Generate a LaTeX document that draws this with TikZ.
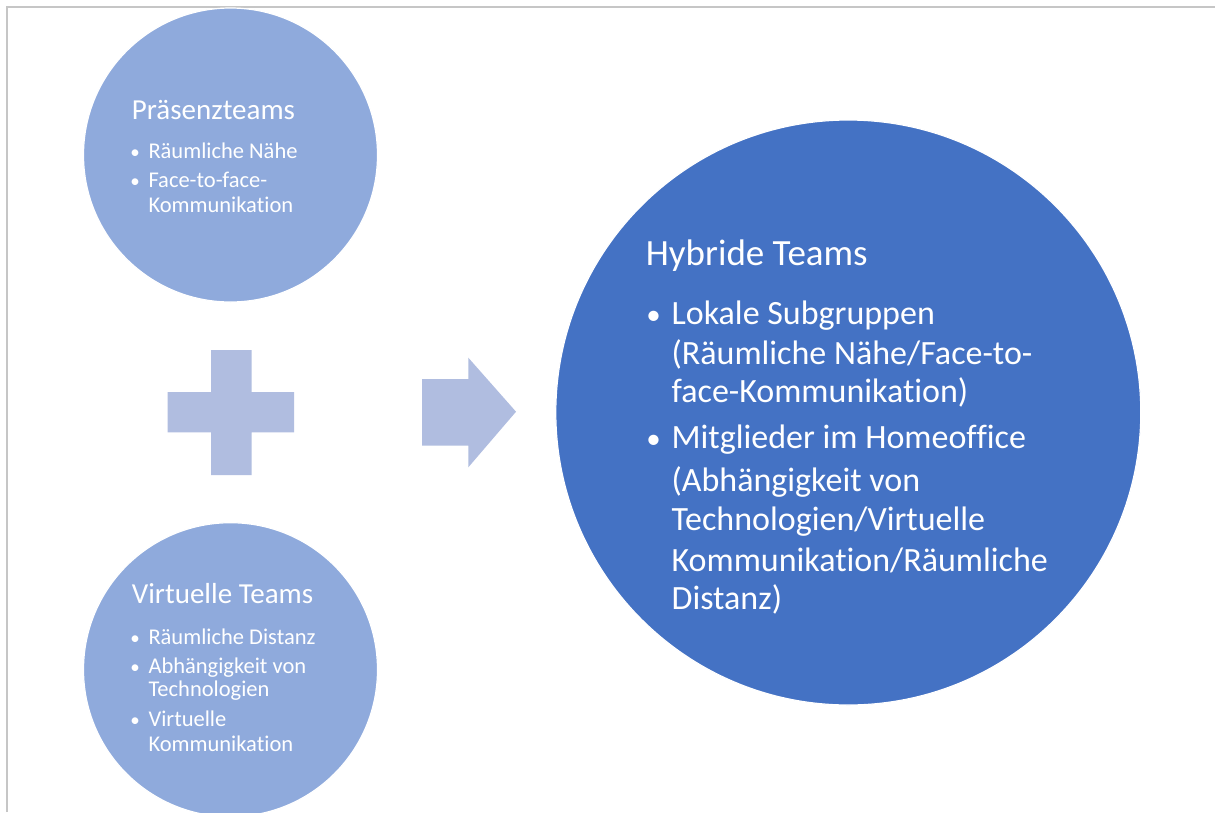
\documentclass[tikz,border=0pt]{standalone}
\usepackage{fontspec}
\setmainfont{Carlito}[Ligatures=NoCommon]
\begin{document}
\begin{tikzpicture}[x=1pt,y=-1pt,
  lightcircle/.style={circle,fill=teamlight,draw=white,line width=1.2pt,minimum size=294pt,inner sep=0pt},
  darkcircle/.style={circle,fill=teamdark,draw=white,line width=1.2pt,minimum size=585pt,inner sep=0pt},
  sym/.style={fill=symbolblue,draw=none},
  txt/.style={text=white,inner sep=0pt,anchor=base west},
  dot/.style={text=white,inner sep=0pt,anchor=base},
  smalltitle/.style={txt,font=\fontsize{29}{34}\selectfont},
  smallitem/.style={txt,font=\fontsize{22.5}{26}\selectfont},
  smalldot/.style={dot,font=\fontsize{19}{22}\selectfont},
  bigtitle/.style={txt,font=\fontsize{37}{44}\selectfont},
  bigitem/.style={txt,font=\fontsize{34}{40}\selectfont},
  bigdot/.style={dot,font=\fontsize{29}{34}\selectfont}]
\definecolor{teamlight}{HTML}{8FAADC}
\definecolor{teamdark}{HTML}{4472C4}
\definecolor{symbolblue}{HTML}{B0BDE0}
\definecolor{framegray}{HTML}{C6C6C6}

\useasboundingbox (0,0) rectangle (1215,812);
\fill[white] (0,0) rectangle (1215,812);

% page frame
\draw[framegray,line width=2pt] (7,812) -- (7,7) -- (1215,7);

% team circles
\node[lightcircle] (praesenz) at (230.5,155) {};
\node[lightcircle] (virtuell) at (230.5,669.7) {};
\node[darkcircle] (hybrid) at (848.3,412.5) {};

% plus sign
\fill[sym] (211,350) -- (251.7,350) -- (251.7,392) -- (294,392) -- (294,432.3)
  -- (251.7,432.3) -- (251.7,475) -- (211,475) -- (211,432.3) -- (167.7,432.3)
  -- (167.7,392) -- (211,392) -- cycle;

% block arrow
\fill[sym] (422,379) -- (468.3,379) -- (468.3,357.7) -- (516,411.7)
  -- (468.3,467.3) -- (468.3,445.7) -- (422,445.7) -- cycle;

% Praesenzteams
\node[smalltitle] (pt) at (131.7,119.3) {Präsenzteams};
\node[smalldot] (pb1) at (135,158.7) {•};
\node[smallitem] (pi1) at (148.3,158.7) {Räumliche Nähe};
\node[smalldot] (pb2) at (135,187.3) {•};
\node[smallitem] (pi2a) at (148.3,187.3) {Face-to-face-};
\node[smallitem] (pi2b) at (148.3,212.3) {Kommunikation};

% Virtuelle Teams
\node[smalltitle] (vt) at (131.7,603.3) {Virtuelle Teams};
\node[smalldot] (vb1) at (135,644.3) {•};
\node[smallitem] (vi1) at (148.3,644.3) {Räumliche Distanz};
\node[smalldot] (vb2) at (135,673.3) {•};
\node[smallitem] (vi2a) at (148.3,673.3) {Abhängigkeit von};
\node[smallitem] (vi2b) at (148.3,696.7) {Technologien};
\node[smalldot] (vb3) at (135,726.7) {•};
\node[smallitem] (vi3a) at (148.3,726.7) {Virtuelle};
\node[smallitem] (vi3b) at (148.3,751) {Kommunikation};

% Hybride Teams
\node[bigtitle] (ht) at (645.7,265.7) {Hybride Teams};
\node[bigdot] (hb1) at (653.6,324.3) {•};
\node[bigitem] (hi1a) at (671.4,324.3) {Lokale Subgruppen};
\node[bigitem] (hi1b) at (671.4,364.6) {(Räumliche Nähe/Face-to-};
\node[bigitem] (hi1c) at (671.4,402.9) {face-Kommunikation)};
\node[bigdot] (hb2) at (653.6,448.6) {•};
\node[bigitem] (hi2a) at (671.4,448.6) {Mitglieder im Homeoffice};
\node[bigitem] (hi2b) at (671.4,491.4) {(Abhängigkeit von};
\node[bigitem] (hi2c) at (671.4,530.7) {Technologien/Virtuelle};
\node[bigitem] (hi2d) at (671.4,571.8) {Kommunikation/Räumliche};
\node[bigitem] (hi2e) at (671.4,609.3) {Distanz)};
\end{tikzpicture}
\end{document}
